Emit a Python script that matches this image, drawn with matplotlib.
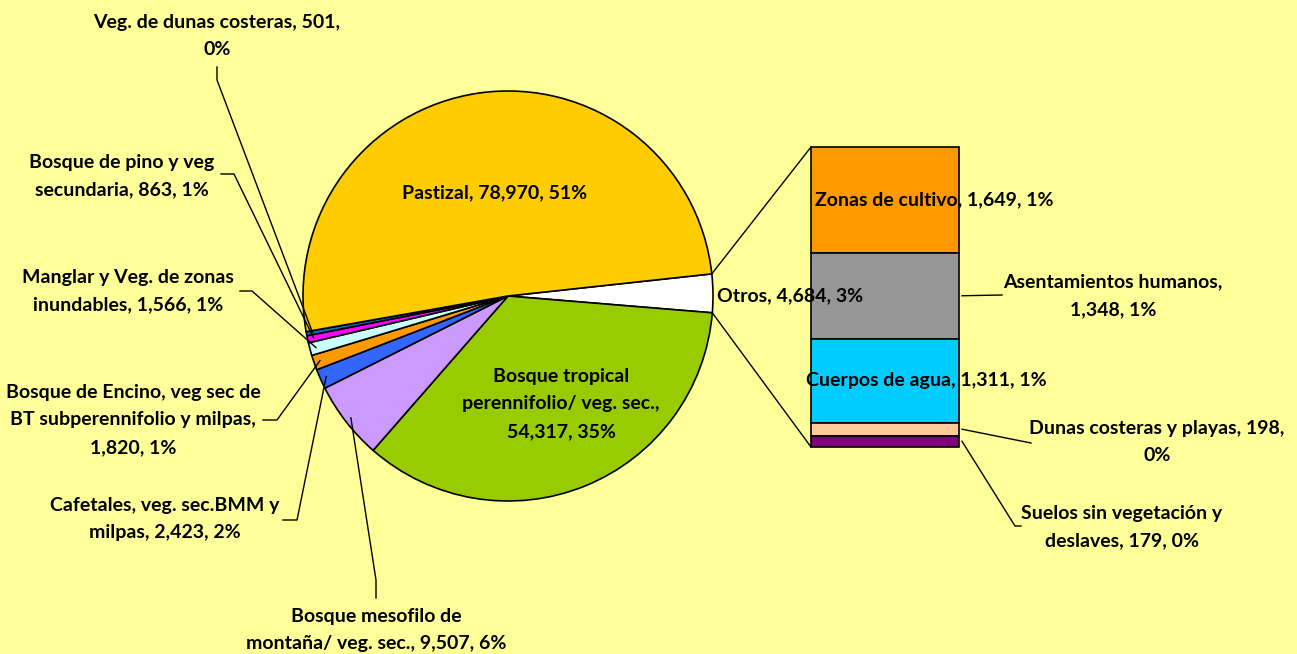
import numpy as np
import matplotlib.pyplot as plt

plt.rcParams['font.family'] = ['Lato', 'DejaVu Sans']

# main pie, in drawing order (clockwise from "Otros")
pie_labels = ['Otros', 'Bosque tropical\nperennifolio/ veg. sec.,\n', 'Bosque mesofilo de\nmontaña/ veg. sec.',
              'Cafetales, veg. sec.BMM y\nmilpas', 'Bosque de Encino, veg sec de\nBT subperennifolio y milpas,\n',
              'Manglar y Veg. de zonas\ninundables', 'Bosque de pino y veg\nsecundaria',
              'Veg. de dunas costeras', 'Pastizal']
pie_values = [4684, 54317, 9507, 2423, 1820, 1566, 863, 501, 78970]
pie_pct = ['3%', '35%', '6%', '2%', '1%', '1%', '1%', '0%', '51%']
pie_colors = ['#FFFFFF', '#99CC00', '#CC99FF', '#3366FF', '#FF9900', '#CCFFFF', '#FF00FF', '#0070C0', '#FFCC00']

# breakdown of "Otros" (top to bottom)
bar_labels = ['Zonas de cultivo', 'Asentamientos humanos', 'Cuerpos de agua',
              'Dunas costeras y playas', 'Suelos sin vegetación y\ndeslaves']
bar_values = [1649, 1348, 1311, 198, 179]
bar_pct = ['1%', '1%', '1%', '0%', '0%']
bar_colors = ['#FF9900', '#969696', '#00CCFF', '#FFCC99', '#800080']

W, H = 1297, 654
BG = '#FFFF99'


def Y(y):
    return H - y


fig = plt.figure(figsize=(W / 100, H / 100), dpi=100, facecolor=BG)
ax = fig.add_axes([0, 0, 1, 1])
ax.set_facecolor(BG)

cx, cy, r = 508, 296, 205
wedges, _ = ax.pie(pie_values, colors=pie_colors, startangle=6.2, counterclock=False,
                   radius=r, center=(cx, Y(cy)),
                   wedgeprops=dict(edgecolor='black', linewidth=1.2))

fs = 14
tkw = dict(fontsize=fs, fontweight='bold', ha='center', va='center', linespacing=1.75, color='black')


def lab(i):
    name = pie_labels[i]
    val = f'{pie_values[i]:,}'
    if name.endswith('\n'):
        return f'{name}{val}, {pie_pct[i]}'
    return f'{name}, {val}, {pie_pct[i]}'


def edge_pt(i, frac=0.5, rr=1.0):
    w = wedges[i]
    a = np.deg2rad(w.theta1 + (w.theta2 - w.theta1) * frac)
    return cx + r * rr * np.cos(a), Y(cy) + r * rr * np.sin(a)


# labels inside the pie
ax.text(495, Y(193), lab(8), **tkw)
ax.text(561, Y(404), lab(1), **tkw)
ax.text(717, Y(296), lab(0), fontsize=fs, fontweight='bold', ha='left', va='center')

# outside labels: (index, text center, elbow start, elbow end)
outside = [
    (7, (217, 36), (217, 67), (217, 80)),
    (6, (122, 176), (221, 174), (234, 174)),
    (5, (128, 291), (240, 291), (252, 291)),
    (4, (133, 420), (263, 420), (277, 420)),
    (3, (165, 519), (283, 520), (297, 520)),
    (2, (376, 630), (376, 598), (376, 580)),
]
for i, tc, p1, p2 in outside:
    if i == 7:
        txt = 'Veg. de dunas costeras, 501,\n0%'
    elif i == 2:
        txt = 'Bosque mesofilo de\nmontaña/ veg. sec., 9,507, 6%'
    else:
        txt = lab(i)
    ax.text(tc[0], Y(tc[1]), txt, **tkw)
    ex, ey = edge_pt(i, 0.5, 0.97)
    ax.plot([p1[0], p2[0], ex], [Y(p1[1]), Y(p2[1]), ey], color='black', lw=1)

# stacked bar for "Otros"
bx0, bx1, btop, bbot = 811, 959, 147, 447
scale = (bbot - btop) / sum(bar_values)
top = Y(btop)
bar_mid = []
for v, c in zip(bar_values, bar_colors):
    h = v * scale
    ax.bar((bx0 + bx1) / 2, h, width=bx1 - bx0, bottom=top - h, color=c, edgecolor='black', linewidth=1.2)
    bar_mid.append(top - h / 2)
    top -= h

# connector lines
t1 = np.deg2rad(wedges[0].theta1)
t2 = np.deg2rad(wedges[0].theta2)
ax.plot([cx + r * np.cos(t2), bx0], [Y(cy) + r * np.sin(t2), Y(btop)], color='black', lw=1)
ax.plot([cx + r * np.cos(t1), bx0], [Y(cy) + r * np.sin(t1), Y(bbot)], color='black', lw=1)

# bar labels
ax.text(934, bar_mid[0], f'{bar_labels[0]}, {bar_values[0]:,}, {bar_pct[0]}', **tkw)
ax.text(926, bar_mid[2], f'{bar_labels[2]}, {bar_values[2]:,}, {bar_pct[2]}', **tkw)
ax.text(1113, Y(296), f'{bar_labels[1]},\n{bar_values[1]:,}, {bar_pct[1]}', **tkw)
ax.plot([962, 1002], [bar_mid[1], Y(295)], color='black', lw=1)
ax.text(1157, Y(442), f'{bar_labels[3]}, {bar_values[3]},\n{bar_pct[3]}', **tkw)
ax.plot([962, 1031], [bar_mid[3], Y(443)], color='black', lw=1)
ax.text(1122, Y(527), f'{bar_labels[4]}, {bar_values[4]}, {bar_pct[4]}', **tkw)
ax.plot([962, 1015, 1021], [bar_mid[4], Y(526), Y(526)], color='black', lw=1)

ax.set_xlim(0, W)
ax.set_ylim(0, H)
ax.set_aspect('auto')
ax.axis('off')

fig.savefig('out.png', dpi=100, facecolor=BG)
